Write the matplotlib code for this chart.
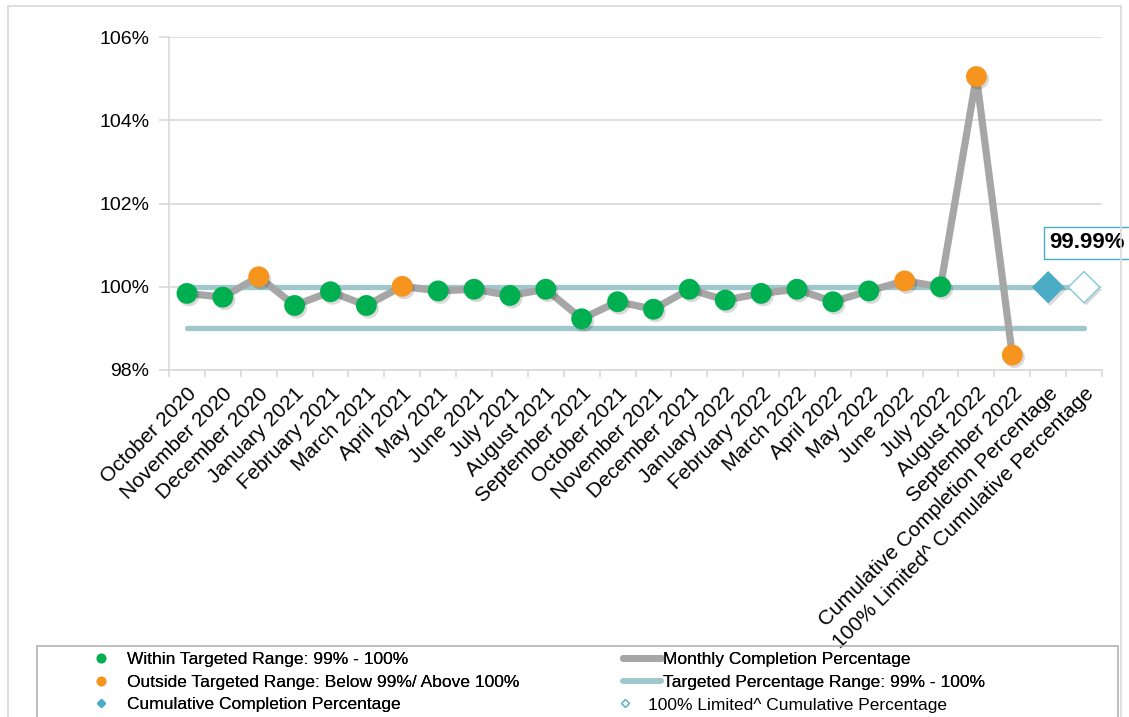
import matplotlib.pyplot as plt
import matplotlib.patheffects as pe
from matplotlib.lines import Line2D
from matplotlib.patches import Rectangle

plt.rcParams['font.family'] = ['Liberation Sans', 'DejaVu Sans']

# monthly completion percentages
months = ["October 2020", "November 2020", "December 2020", "January 2021",
          "February 2021", "March 2021", "April 2021", "May 2021", "June 2021",
          "July 2021", "August 2021", "September 2021", "October 2021",
          "November 2021", "December 2021", "January 2022", "February 2022",
          "March 2022", "April 2022", "May 2022", "June 2022", "July 2022",
          "August 2022", "September 2022"]
monthly_pct = [99.84, 99.75, 100.24, 99.55, 99.88, 99.55, 100.01, 99.90, 99.94,
               99.79, 99.94, 99.23, 99.64, 99.46, 99.94, 99.68, 99.84, 99.94,
               99.64, 99.90, 100.14, 100.00, 105.05, 98.36]

summary_labels = ["Cumulative Completion Percentage",
                  "100% Limited^ Cumulative Percentage"]
cumulative_pct = 99.99
limited_pct = 99.99

target_low = 99.0
target_high = 100.0
y_ticks = [98, 100, 102, 104, 106]

GREEN = '#00B050'
ORANGE = '#F7941D'
GRAY = '#A6A6A6'
TEAL = '#A0C7CC'
BLUE = '#4BACC6'
GRID = '#D9D9D9'

W, H = 1129, 717
fig = plt.figure(figsize=(W / 100, H / 100), dpi=100)
ax = fig.add_axes([169 / W, 1 - 370 / H, (1102 - 169) / W, (370 - 37) / H])

labels = months + summary_labels
x_all = list(range(len(labels)))
x_m = x_all[:len(months)]
x_cum, x_lim = x_all[len(months)], x_all[len(months) + 1]

shadow = [pe.SimplePatchShadow(offset=(1.5, -1.8), shadow_rgbFace='black', alpha=0.15),
          pe.Normal()]

# target range lines
ax.plot(x_all, [target_high] * len(x_all), color=TEAL, lw=3.8,
        solid_capstyle='round', zorder=2)
ax.plot(x_all, [target_low] * len(x_all), color=TEAL, lw=3.8,
        solid_capstyle='round', zorder=2)

# monthly line
ax.plot(x_m, monthly_pct, color=GRAY, lw=5.2, solid_joinstyle='round',
        zorder=3, clip_on=False)

# markers coloured by whether the month sits inside the target range
cols = [GREEN if target_low <= v <= target_high else ORANGE for v in monthly_pct]
ax.scatter(x_m, monthly_pct, s=15 ** 2, c=cols, linewidths=0, zorder=4,
           clip_on=False, path_effects=shadow)

# cumulative markers
ax.scatter([x_cum], [cumulative_pct], s=16.5 ** 2, marker='D', c=BLUE,
           linewidths=0, zorder=4, path_effects=shadow)
ax.scatter([x_lim], [limited_pct], s=16 ** 2, marker='D', facecolors='white',
           edgecolors='#86C8D8', linewidths=1.0, zorder=4, path_effects=shadow)

ax.annotate(f"{cumulative_pct:.2f}%", (x_cum, cumulative_pct),
            xytext=(1, 32), textcoords='offset points', ha='left', va='center',
            fontsize=16, fontweight='bold', annotation_clip=False,
            bbox=dict(boxstyle='square,pad=0.25', fc='white', ec=BLUE, lw=1.0),
            zorder=6)

ax.set_xlim(-0.5, len(labels) - 0.5)
ax.set_ylim(y_ticks[0], y_ticks[-1])
ax.set_yticks(y_ticks, [f"{v}%" for v in y_ticks], fontsize=14)
ax.yaxis.grid(True, color=GRID, lw=1.2)
ax.set_axisbelow(True)
ax.tick_params(axis='y', length=7, width=1.2, color=GRID, pad=7)

ax.set_xticks(x_all, labels, fontsize=15, rotation=45, ha='right',
              va='top', rotation_mode='anchor')
ax.set_xticks([i + 0.5 for i in x_all[:-1]] + [-0.5, x_all[-1] + 0.5], minor=True)
ax.tick_params(axis='x', which='major', length=0, pad=10)
ax.tick_params(axis='x', which='minor', length=5, width=1.2, color=GRID)

for side in ['top', 'right']:
    ax.spines[side].set_visible(False)
for side in ['left', 'bottom']:
    ax.spines[side].set_color(GRID)
    ax.spines[side].set_linewidth(1.2)

# chart border and legend frame
fig.add_artist(Rectangle((8 / W, -0.01), (1121 - 8) / W, 1.01 - 6 / H,
                         transform=fig.transFigure, fill=False, ec=GRID, lw=1.2))
fig.add_artist(Rectangle((37 / W, -0.01), (1118 - 37) / W, 0.01 + (717 - 646) / H,
                         transform=fig.transFigure, fill=False, ec='#B3B3B3', lw=1.2))

leg_kw = dict(frameon=False, fontsize=12.5, borderpad=0, borderaxespad=0,
              labelspacing=0.42, handleheight=0.7)

h1 = [Line2D([], [], ls='none', marker='o', color=GREEN, markersize=6),
      Line2D([], [], ls='none', marker='o', color=ORANGE, markersize=6),
      Line2D([], [], ls='none', marker='D', color=BLUE, markersize=4)]
leg1 = fig.legend(h1, ["Within Targeted Range: 99% - 100%",
                       "Outside Targeted Range: Below 99%/ Above 100%",
                       "Cumulative Completion Percentage"],
                  loc='center left', bbox_to_anchor=(91 / W, 1 - 682 / H),
                  handlelength=1.2, handletextpad=0.9, **leg_kw)

h2 = [Line2D([], [], color=GRAY, lw=5, solid_capstyle='round'),
      Line2D([], [], color=TEAL, lw=4, solid_capstyle='round')]
leg2 = fig.legend(h2, ["Monthly Completion Percentage",
                       "Targeted Percentage Range: 99% - 100%"],
                  loc='center left', bbox_to_anchor=(623 / W, 1 - 671 / H),
                  handlelength=2.2, handletextpad=0.08, **leg_kw)

h3 = [Line2D([], [], ls='none', marker='D', markerfacecolor='white',
             markeredgecolor=BLUE, markeredgewidth=1, markersize=4)]
leg3 = fig.legend(h3, ["100% Limited^ Cumulative Percentage"],
                  loc='center left', bbox_to_anchor=(620 / W, 1 - 705 / H),
                  handlelength=0.6, handletextpad=1.0, **leg_kw)
fig.add_artist(leg1)
fig.add_artist(leg2)

fig.savefig('out.png', dpi=100)
